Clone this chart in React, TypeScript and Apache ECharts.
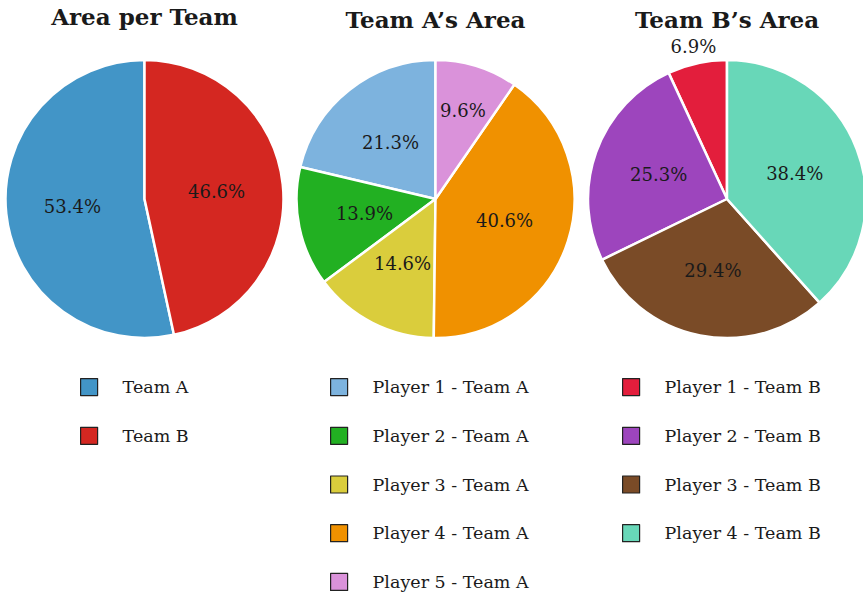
import React, { useEffect, useRef } from "react";
import * as echarts from "echarts";

const teamNames = ["Team A", "Team B"];
const teamValues = [53.4, 46.6];
const teamColors = ["#4295c7", "#d42721"];

const playersA = [
  "Player 1 - Team A",
  "Player 2 - Team A",
  "Player 3 - Team A",
  "Player 4 - Team A",
  "Player 5 - Team A",
];
const valuesA = [21.3, 13.9, 14.6, 40.6, 9.6];
const colorsA = ["#7db3de", "#22b022", "#dacd3c", "#f09100", "#da92da"];

const playersB = [
  "Player 1 - Team B",
  "Player 2 - Team B",
  "Player 3 - Team B",
  "Player 4 - Team B",
];
const valuesB = [6.9, 25.3, 29.4, 38.4];
const colorsB = ["#e31e3c", "#9d45bd", "#7a4b27", "#68d7b8"];

const titles = ["Area per Team", "Team A\u2019s Area", "Team B\u2019s Area"];

// labels that sit farther out than the rest
const outerLabelA = "Player 5 - Team A";
const outerLabelB = "Player 1 - Team B";

const FONT = "'DejaVu Serif', serif";
const TXT = "#1a1a1a";

const pctFmt = (p: any) => Number(p.value).toFixed(1) + "%";

function mainPie(center: number[], names: string[], values: number[], colors: string[], hideName?: string) {
  return {
    type: "pie",
    center,
    radius: [0, 139],
    startAngle: 90,
    clockwise: false,
    silent: true,
    avoidLabelOverlap: false,
    itemStyle: { borderColor: "#ffffff", borderWidth: 2.5 },
    label: {
      show: true,
      position: "inside",
      formatter: pctFmt,
      fontFamily: FONT,
      fontSize: 18,
      color: TXT,
    },
    labelLine: { show: false },
    data: names.map((n, i) => ({
      name: n,
      value: values[i],
      itemStyle: { color: colors[i] },
      label: { show: n !== hideName },
    })),
  };
}

function labelPie(center: number[], radius: number[], names: string[], values: number[], showName: string) {
  return {
    type: "pie",
    center,
    radius,
    startAngle: 90,
    clockwise: false,
    silent: true,
    avoidLabelOverlap: false,
    itemStyle: { color: "rgba(0,0,0,0)", borderWidth: 0 },
    label: {
      show: true,
      position: "inside",
      formatter: pctFmt,
      fontFamily: FONT,
      fontSize: 18,
      color: TXT,
    },
    labelLine: { show: false },
    data: names.map((n, i) => ({
      name: n,
      value: values[i],
      itemStyle: { color: "rgba(0,0,0,0)" },
      label: { show: n === showName },
    })),
  };
}

function legend(names: string[], left: number) {
  return {
    orient: "vertical",
    left,
    top: 378,
    bottom: 0,
    padding: 0,
    itemWidth: 17,
    itemHeight: 17,
    itemGap: 30.5,
    icon: "rect",
    selectedMode: false,
    itemStyle: { borderColor: "#222", borderWidth: 1.2 },
    textStyle: {
      fontFamily: FONT,
      fontSize: 17.5,
      lineHeight: 17,
      color: TXT,
      padding: [0, 0, 0, 20],
    },
    data: names,
  };
}

export default function App() {
  const ref = useRef<HTMLDivElement>(null);
  useEffect(() => {
    if (!ref.current) return;
    const chart = echarts.init(ref.current, undefined, { renderer: "svg" });
    const centers = [
      [144.5, 199],
      [435.5, 199],
      [727, 199],
    ];
    chart.setOption({
      animation: false,
      backgroundColor: "#ffffff",
      title: titles.map((t, i) => ({
        text: t,
        left: centers[i][0],
        top: i === 0 ? 5 : 8,
        textAlign: "center",
        padding: 0,
        textStyle: { fontFamily: FONT, fontSize: 23, fontWeight: "bold", color: TXT },
      })),
      legend: [legend(teamNames, 80), legend(playersA, 330), legend(playersB, 622)],
      series: [
        mainPie(centers[0], teamNames, teamValues, teamColors),
        mainPie(centers[1], playersA, valuesA, colorsA, outerLabelA),
        mainPie(centers[2], playersB, valuesB, colorsB, outerLabelB),
        labelPie(centers[1], [40, 139], playersA, valuesA, outerLabelA),
        labelPie(centers[2], [139, 167], playersB, valuesB, outerLabelB),
      ],
    });
    return () => chart.dispose();
  }, []);
  return (
    <div
      ref={ref}
      style={{ position: "fixed", left: 0, top: 0, width: 863, height: 595, background: "#fff" }}
    />
  );
}
